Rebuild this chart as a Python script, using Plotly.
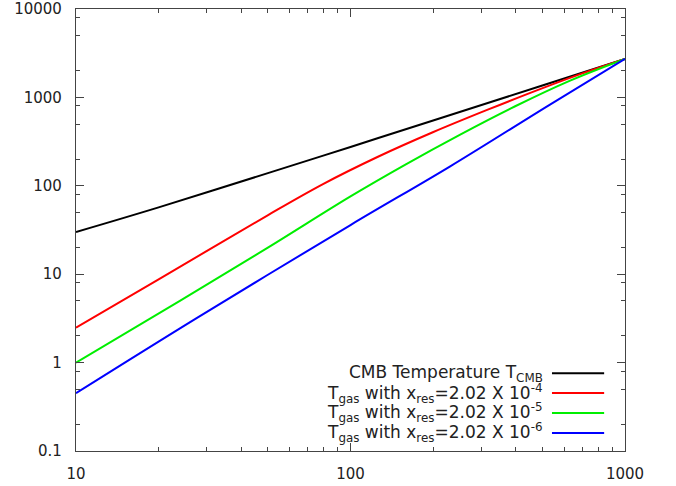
import plotly.graph_objects as go

# ---- data ----
z_cmb = [10, 20, 50, 100, 200, 500, 1000]
t_cmb = [30, 57, 139, 275, 548, 1365, 2728]

z_red = [10, 20, 50.1, 79.4, 125.9, 199.5, 316.2, 501.2, 707.9, 1000]
t_red = [2.48, 8.73, 46.7, 104.5, 213, 403, 726, 1274, 1894, 2728]

z_green = [10, 23.9, 50, 100, 158.5, 251, 398, 631, 1000]
t_green = [1.0, 5.0, 20, 76, 174, 380, 794, 1549, 2728]

z_blue = [10, 27.6, 100, 230, 533, 1000]
t_blue = [0.45, 3.2, 36, 165, 830, 2728]

series_names = [
    "CMB Temperature T<sub>CMB</sub>",
    "T<sub>gas</sub> with x<sub>res</sub>=2.02 X 10<sup>-4</sup>",
    "T<sub>gas</sub> with x<sub>res</sub>=2.02 X 10<sup>-5</sup>",
    "T<sub>gas</sub> with x<sub>res</sub>=2.02 X 10<sup>-6</sup>",
]
series_colors = ["#000000", "#ff0000", "#00ee00", "#0000ff"]

x_ticks = [10, 100, 1000]
x_ticktext = ["10", "100", "1000"]
y_ticks = [0.1, 1, 10, 100, 1000, 10000]
y_ticktext = ["0.1", "1", "10", "100", "1000", "10000"]
y_minor = [m * d for d in [0.1, 1, 10, 100, 1000] for m in (2, 5, 8)]

FONT = "DejaVu Sans"

fig = go.Figure()
for (xs, ys), name, col in zip(
    [(z_cmb, t_cmb), (z_red, t_red), (z_green, t_green), (z_blue, t_blue)],
    series_names, series_colors):
    fig.add_trace(go.Scatter(x=xs, y=ys, mode="lines", name=name,
                             line=dict(color=col, width=2, shape="spline", smoothing=1.0),
                             showlegend=False))

# legend drawn as right-aligned text with line samples on the right (gnuplot style)
row_y = [0.176, 0.131, 0.086, 0.041]
for name, col, yy in zip(series_names, series_colors, row_y):
    fig.add_annotation(x=0.854, y=yy, xref="paper", yref="paper", text=name,
                       showarrow=False, xanchor="right", yanchor="middle",
                       font=dict(family=FONT, size=17, color="#222"))
    fig.add_shape(type="line", xref="paper", yref="paper",
                  x0=0.867, x1=0.962, y0=yy, y1=yy,
                  line=dict(color=col, width=2))

axis_common = dict(type="log", showgrid=False, zeroline=False, showline=True,
                   linecolor="#444", linewidth=1.2, mirror="ticks", automargin=False,
                   ticks="inside", ticklen=8, tickwidth=1, tickcolor="#444",
                   ticklabeloverflow="allow",
                   tickfont=dict(family=FONT, size=15, color="#222"))

fig.update_xaxes(**axis_common, range=[1, 3], tickmode="array",
                 tickvals=x_ticks, ticktext=x_ticktext,
                 minor=dict(ticks="inside", ticklen=4, tickwidth=1, tickcolor="#444",
                            dtick="D1", showgrid=False),
                 ticklabelstandoff=9)
fig.update_yaxes(**axis_common, range=[-1, 4], tickmode="array",
                 tickvals=y_ticks, ticktext=y_ticktext,
                 minor=dict(ticks="inside", ticklen=4, tickwidth=1, tickcolor="#444",
                            tickmode="array", tickvals=y_minor, showgrid=False),
                 ticklabelstandoff=10)

fig.update_layout(width=676, height=486,
                  margin=dict(l=76, r=51, t=9, b=35),
                  plot_bgcolor="white", paper_bgcolor="white",
                  font=dict(family=FONT, size=15, color="#222"))

fig.write_html("out.html", config={"displayModeBar": False},
               post_script="document.body.style.margin='0';document.body.style.overflow='hidden';")
